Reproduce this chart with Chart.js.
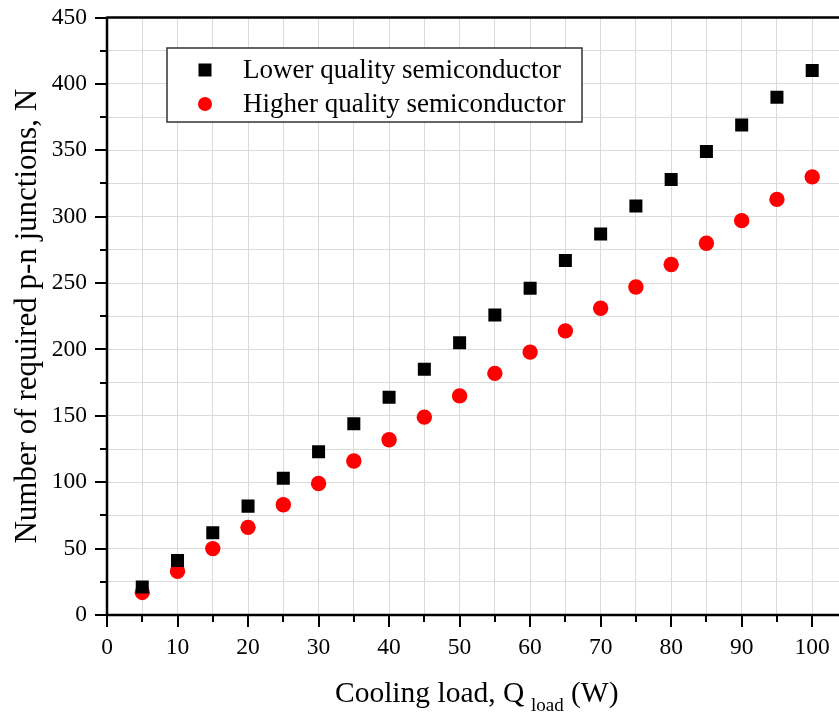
<!DOCTYPE html>
<html>
<head>
<meta charset="utf-8">
<script src="https://cdn.jsdelivr.net/npm/chart.js@4.4.0/dist/chart.umd.min.js"></script>
<style>
  html, body { margin: 0; padding: 0; background: #fff; }
  #wrap { width: 839px; height: 717px; position: relative; }
</style>
</head>
<body>
<div id="wrap"><canvas id="chart"></canvas></div>
<script>
// data
const loads = [5, 10, 15, 20, 25, 30, 35, 40, 45, 50, 55, 60, 65, 70, 75, 80, 85, 90, 95, 100];
const lowerQuality = [21, 41, 62, 82, 103, 123, 144, 164, 185, 205, 226, 246, 267, 287, 308, 328, 349, 369, 390, 410];
const higherQuality = [17, 33, 50, 66, 83, 99, 116, 132, 149, 165, 182, 198, 214, 231, 247, 264, 280, 297, 313, 330];
const seriesNames = ['Lower quality semiconductor', 'Higher quality semiconductor'];
const xTickLabels = [0, 10, 20, 30, 40, 50, 60, 70, 80, 90, 100];
const yTickLabels = [0, 50, 100, 150, 200, 250, 300, 350, 400, 450];

const SERIF = '"Liberation Serif", "DejaVu Serif", serif';
const GRID = '#dadada';

function toPoints(ys) {
  return loads.map((x, i) => ({ x: x, y: ys[i] }));
}

// axis box, tick marks, legend and titles
const decorations = {
  id: 'decorations',
  afterDatasetsDraw(chart) {
    const ctx = chart.ctx;
    const a = chart.chartArea;
    const xs = chart.scales.x, ys = chart.scales.y;
    ctx.save();
    ctx.strokeStyle = '#000';
    ctx.lineWidth = 2.5;
    ctx.beginPath();
    ctx.moveTo(a.left, a.top); ctx.lineTo(a.right + 2, a.top);
    ctx.moveTo(a.left, a.top - 1); ctx.lineTo(a.left, a.bottom + 1);
    ctx.moveTo(a.left - 1, a.bottom); ctx.lineTo(a.right + 2, a.bottom);
    ctx.stroke();

    ctx.lineWidth = 2;
    ctx.beginPath();
    for (let v = 0; v <= 100; v += 5) {
      const px = Math.round(xs.getPixelForValue(v));
      const len = v % 10 === 0 ? 12 : 7;
      ctx.moveTo(px, a.bottom); ctx.lineTo(px, a.bottom + len);
    }
    for (let v = 0; v <= 450; v += 25) {
      const py = Math.round(ys.getPixelForValue(v));
      const len = v % 50 === 0 ? 12 : 7;
      ctx.moveTo(a.left, py); ctx.lineTo(a.left - len, py);
    }
    ctx.stroke();

    // legend box
    const lx = 167, ly = 48, lw = 415, lh = 74;
    ctx.fillStyle = '#fff';
    ctx.fillRect(lx, ly, lw, lh);
    ctx.strokeStyle = '#333';
    ctx.lineWidth = 1.5;
    ctx.strokeRect(lx, ly, lw, lh);
    ctx.font = '27px ' + SERIF;
    ctx.textBaseline = 'middle';
    ctx.textAlign = 'left';
    chart.data.datasets.forEach((ds, i) => {
      const cy = ly + 22 + i * 34;
      ctx.fillStyle = ds.backgroundColor;
      if (ds.pointStyle === 'rect') {
        ctx.fillRect(205 - 6.5, cy - 6.5, 13, 13);
      } else {
        ctx.beginPath();
        ctx.arc(205, cy, 7, 0, Math.PI * 2);
        ctx.fill();
      }
      ctx.fillStyle = '#000';
      ctx.fillText(ds.label, 243, cy + 1);
    });

    // x title with subscript
    ctx.fillStyle = '#000';
    ctx.textBaseline = 'alphabetic';
    const xFont = '29.5px ' + SERIF, subFont = '19px ' + SERIF;
    const base = 702;
    ctx.font = xFont;
    ctx.fillText('Cooling load, Q', 335, base);
    ctx.font = subFont;
    ctx.fillText('load', 531, base + 9);
    ctx.font = xFont;
    ctx.fillText('(W)', 571, base);

    // y title
    ctx.translate(36, (a.top + a.bottom) / 2);
    ctx.rotate(-Math.PI / 2);
    ctx.textAlign = 'center';
    ctx.font = '31px ' + SERIF;
    ctx.fillText('Number of required p-n junctions, N', 0, 0);
    ctx.restore();
  }
};

new Chart(document.getElementById('chart'), {
  type: 'scatter',
  data: {
    datasets: [
      {
        label: seriesNames[0],
        data: toPoints(lowerQuality),
        pointStyle: 'rect',
        radius: 9.2,
        backgroundColor: '#000',
        borderColor: '#000',
        borderWidth: 0
      },
      {
        label: seriesNames[1],
        data: toPoints(higherQuality),
        pointStyle: 'circle',
        radius: 7.7,
        backgroundColor: '#ff0000',
        borderColor: '#ff0000',
        borderWidth: 0
      }
    ]
  },
  options: {
    responsive: true,
    maintainAspectRatio: false,
    animation: false,
    layout: { autoPadding: false, padding: { top: 17.5, right: 0, left: 0, bottom: 0 } },
    plugins: { legend: { display: false }, tooltip: { enabled: false } },
    scales: {
      x: {
        type: 'linear',
        min: 0,
        max: 103.8,
        afterFit: s => {
          s.height = 102;
          s.paddingLeft = 0; s.paddingRight = 0;
        },
        afterBuildTicks: s => {
          s.ticks = [];
          for (let v = 0; v <= 100; v += 5) s.ticks.push({ value: v });
        },
        grid: { color: GRID, lineWidth: 1, drawTicks: false },
        border: { display: false },
        ticks: {
          padding: 19,
          color: '#000',
          font: { family: SERIF, size: 23.5 },
          maxRotation: 0,
          autoSkip: false,
          callback: v => xTickLabels.includes(v) ? String(v) : ''
        }
      },
      y: {
        min: 0,
        max: 450,
        afterFit: s => {
          s.width = 107;
          s.paddingTop = 0; s.paddingBottom = 0;
        },
        afterBuildTicks: s => {
          s.ticks = [];
          for (let v = 0; v <= 450; v += 25) s.ticks.push({ value: v });
        },
        grid: { color: GRID, lineWidth: 1, drawTicks: false },
        border: { display: false },
        ticks: {
          padding: 20,
          color: '#000',
          font: { family: SERIF, size: 23.5 },
          autoSkip: false,
          callback: v => yTickLabels.includes(v) ? String(v) : ''
        }
      }
    }
  },
  plugins: [decorations]
});
</script>
</body>
</html>
